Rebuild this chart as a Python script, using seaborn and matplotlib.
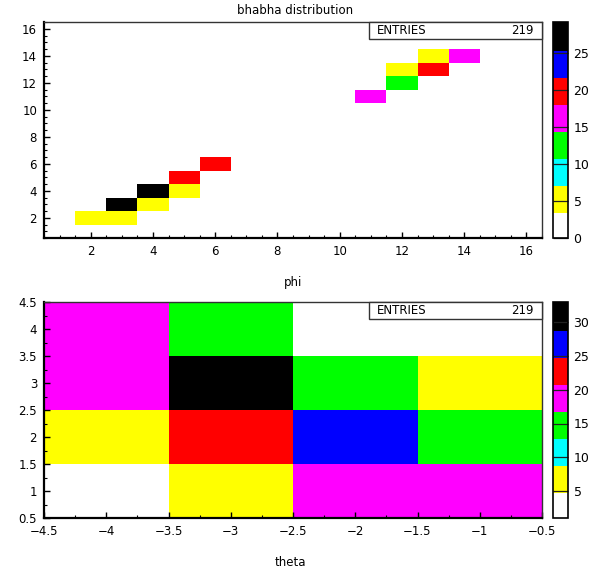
import numpy as np
import pandas as pd
import matplotlib
matplotlib.use("Agg")
import matplotlib.pyplot as plt
from matplotlib.colors import ListedColormap
from matplotlib.patches import Rectangle
from matplotlib.ticker import MultipleLocator
import seaborn as sns

# ---------------- data ----------------
title = "bhabha distribution"
entries_label = "ENTRIES"
top_entries = 219
bottom_entries = 219

# top histogram (phi vs ?) : bin centres and contents
top_x = [2, 3, 3, 4, 4, 5, 5, 6, 11, 12, 12, 13, 13, 14]
top_y = [2, 2, 3, 3, 4, 4, 5, 6, 11, 12, 13, 13, 14, 14]
top_w = [5, 6, 27, 6, 29, 5, 20, 19, 16, 13, 6, 20, 5, 17]
top_xlabel = "phi"

# bottom histogram (theta vs ?)
bot_x = [-4, -3, -4, -3, -2, -1, -4, -3, -2, -1, -4, -3, -2, -1]
bot_y = [4, 4, 3, 3, 3, 3, 2, 2, 2, 2, 1, 1, 1, 1]
bot_w = [18, 14, 18, 33, 15, 7, 6, 22, 26, 14, 1, 8, 19, 18]
bot_xlabel = "theta"

top_cbar_ticks = [0, 5, 10, 15, 20, 25]
bot_cbar_ticks = [5, 10, 15, 20, 25, 30]

# ---------------- style ----------------
paw_colors = ["#ffffff", "#ffff00", "#00ffff", "#00ff00",
              "#ff00ff", "#ff0000", "#0000ff", "#000000"]
cmap = ListedColormap(paw_colors)
top_vmin, top_vmax = 0, 29.2
bot_vmin, bot_vmax = 1, 33

plt.rcParams["font.family"] = ["DejaVu Sans"]
plt.rcParams["font.size"] = 8

W, H = 592, 573
fig = plt.figure(figsize=(W / 100, H / 100), dpi=100)


def fx(px):
    return px / W


def fy(py):
    return 1 - py / H


def make_axes(x0, x1, y0, y1):
    return fig.add_axes([fx(x0), fy(y1), fx(x1) - fx(x0), fy(y0) - fy(y1)])


ax_top = make_axes(44, 542, 22, 238)
cax_top = make_axes(553, 568, 22, 238)
ax_bot = make_axes(44, 542, 302, 518)
cax_bot = make_axes(553, 568, 302, 518)

df_top = pd.DataFrame({"x": top_x, "y": top_y, "w": top_w})
df_bot = pd.DataFrame({"x": bot_x, "y": bot_y, "w": bot_w})

sns.histplot(data=df_top, x="x", y="y", weights="w", binwidth=1,
             binrange=((0.5, 16.5), (0.5, 16.5)), cmap=cmap,
             vmin=top_vmin, vmax=top_vmax, ax=ax_top,
             cbar=True, cbar_ax=cax_top)
sns.histplot(data=df_bot, x="x", y="y", weights="w", binwidth=1,
             binrange=((-4.5, -0.5), (0.5, 4.5)), cmap=cmap,
             vmin=bot_vmin, vmax=bot_vmax, ax=ax_bot,
             cbar=True, cbar_ax=cax_bot)


def style_axes(ax, xlim, ylim, xmaj, xmin, ymaj, ymin, fmt):
    ax.set_xlim(*xlim)
    ax.set_ylim(*ylim)
    ax.set_xlabel("")
    ax.set_ylabel("")
    ax.xaxis.set_major_locator(MultipleLocator(xmaj))
    ax.xaxis.set_minor_locator(MultipleLocator(xmin))
    ax.yaxis.set_major_locator(MultipleLocator(ymaj))
    ax.yaxis.set_minor_locator(MultipleLocator(ymin))
    if fmt:
        ax.xaxis.set_major_formatter(matplotlib.ticker.FuncFormatter(fmt))
        ax.yaxis.set_major_formatter(matplotlib.ticker.FuncFormatter(fmt))
    ax.tick_params(which="major", direction="in", length=4.5, width=1,
                   labelsize=8.5, pad=5, top=False, right=False)
    ax.tick_params(which="minor", direction="in", length=2.5, width=0.8,
                   top=False, right=False)
    for s in ["bottom", "left"]:
        ax.spines[s].set_linewidth(1.6)
        ax.spines[s].set_color("black")
    for s in ["top", "right"]:
        ax.spines[s].set_linewidth(1.0)
        ax.spines[s].set_color("#333333")
    ax.set_facecolor("white")


def halffmt(v, pos):
    s = ("%g" % v)
    return s.replace("-", "\u2212")


style_axes(ax_top, (0.5, 16.5), (0.5, 16.5), 2, 0.5, 2, 0.5, None)
style_axes(ax_bot, (-4.5, -0.5), (0.5, 4.5), 0.5, 0.25, 0.5, 0.25, halffmt)


def style_cbar(cax, ticks):
    cax.set_yticks(ticks)
    cax.tick_params(direction="in", length=11, width=0.9, color="#222222",
                    labelsize=9, pad=4, right=True, left=False)
    cax.minorticks_off()
    for s in cax.spines.values():
        s.set_linewidth(1.2)
        s.set_color("black")
    cax.yaxis.set_ticks_position("right")


style_cbar(cax_top, top_cbar_ticks)
style_cbar(cax_bot, bot_cbar_ticks)
for cax in (cax_top, cax_bot):
    for c in cax.collections:
        c.set_edgecolor("face")


def entries_box(ax, n):
    # box in axes fraction coords
    x0 = (369 - 44) / (542 - 44)
    h = 16.5 / 216
    ax.add_patch(Rectangle((x0, 1 - h), 1 - x0, h, transform=ax.transAxes,
                           facecolor="white", edgecolor="#333333", lw=1.0,
                           zorder=5, clip_on=False))
    ax.text((377 - 44) / 498, 1 - h / 2, entries_label, transform=ax.transAxes,
            ha="left", va="center", fontsize=8.5, zorder=6)
    ax.text((534 - 44) / 498, 1 - h / 2, str(n), transform=ax.transAxes,
            ha="right", va="center", fontsize=8.5, zorder=6)


entries_box(ax_top, top_entries)
entries_box(ax_bot, bottom_entries)

fig.text(fx(295), fy(10), title, ha="center", va="center", fontsize=8.5)
fig.text(fx(293), fy(283), top_xlabel, ha="center", va="center", fontsize=8.5)
fig.text(fx(290), fy(562), bot_xlabel, ha="center", va="center", fontsize=8.5)

fig.savefig("out.png", dpi=100)
